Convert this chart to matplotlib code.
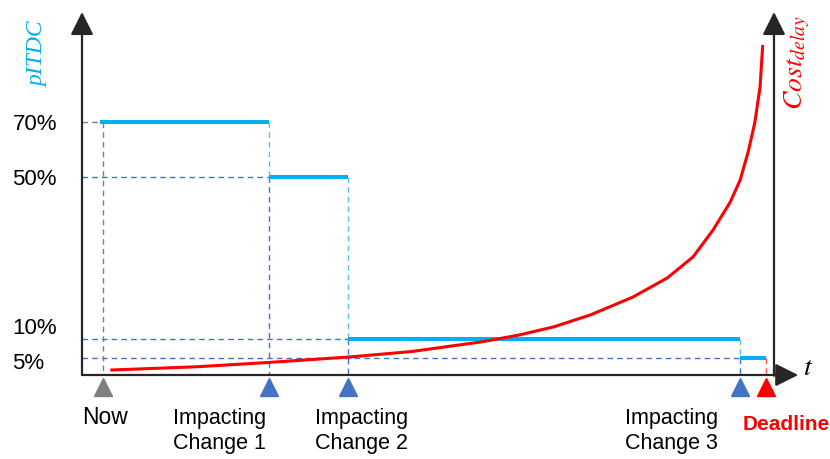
import matplotlib
matplotlib.use("Agg")
import matplotlib.pyplot as plt
import numpy as np
from matplotlib.transforms import blended_transform_factory, ScaledTranslation

# event times (days from now)
event_names = ["Now", "Impacting\nChange 1", "Impacting\nChange 2", "Impacting\nChange 3", "Deadline"]
event_times = [0, 25, 37, 96, 100]

# pITDC level for each interval between events
pitdc_levels = [70, 50, 10, 5]
tick_labels = ["70%", "50%", "10%", "5%"]

# cost of delay curve
cost_t = [1.1, 14.2, 25.0, 37.4, 46.5, 57.3, 62.7, 68.0, 73.5, 79.9,
          85.1, 89.0, 92.0, 94.6, 96.1, 97.3, 98.3, 99.1, 99.5]
cost_v = [1.5, 2.5, 3.8, 5.5, 7.1, 10.1, 12.1, 14.6, 18.2, 23.6,
          29.4, 35.8, 43.9, 52.4, 59.1, 67.6, 76.4, 87.3, 100.0]

# the pITDC axis is not linear in the picture (schematic), so use a piecewise scale
scale_vals = [0, 5, 10, 50, 70, 110]
scale_pos = [0, 17, 36, 198, 253, 363]

def fwd(v):
    return np.interp(v, scale_vals, scale_pos)

def inv(u):
    return np.interp(u, scale_pos, scale_vals)

blue = "#00B0F0"
dblue = "#4472C4"
lblue = "#5BC0EB"
grey = "#7F7F7F"
red = "#FF0000"

plt.rcParams["font.family"] = ["Liberation Sans", "DejaVu Sans"]
plt.rcParams["mathtext.fontset"] = "stix"

fig = plt.figure(figsize=(8.3, 4.59), dpi=100)
ax = fig.add_axes([82 / 830, 84 / 459, 692 / 830, 363 / 459])
ax.set_yscale("function", functions=(fwd, inv))
ax.set_xlim(-3.17, 101.2)
ax.set_ylim(0, 110)
for s in ax.spines.values():
    s.set_visible(False)
ax.set_xticks([])
ax.set_yticks(pitdc_levels)
ax.set_yticklabels(tick_labels, fontsize=16, ha="left")
ax.tick_params(axis="y", length=0, pad=50)
ax.yaxis.set_minor_locator(matplotlib.ticker.NullLocator())
# the 10% label sits a bit above its line in the reference
for lab in ax.get_yticklabels():
    if lab.get_text() == "10%":
        lab.set_transform(lab.get_transform() + ScaledTranslation(0, 13 / 100, fig.dpi_scale_trans))
    if lab.get_text() == "5%":
        lab.set_transform(lab.get_transform() + ScaledTranslation(0, -3 / 100, fig.dpi_scale_trans))

dash = (0, (4, 3))
x0 = ax.get_xlim()[0]

# step lines and guides
for i, lev in enumerate(pitdc_levels):
    t_start = event_times[i]
    t_end = event_times[i + 1]
    gcol = grey if i == 0 else dblue
    ax.plot([x0, t_start], [lev, lev], color=gcol, lw=1, ls=dash, zorder=2)
    ax.plot([t_start - (0.5 if i == 0 else 0), t_end], [lev, lev], color=blue, lw=2.9,
            solid_capstyle="butt", zorder=3)
    # riser at the end of each interval
    if i + 1 < len(pitdc_levels):
        nxt = pitdc_levels[i + 1]
        ax.plot([t_end, t_end], [lev, nxt], color=lblue, lw=1, ls=dash, zorder=2)
        ax.plot([t_end, t_end], [nxt, 0], color=dblue, lw=1, ls=dash, zorder=2)
    else:
        ax.plot([t_end, t_end], [lev, 0], color="#FF5050", lw=1, ls=dash, zorder=2)
ax.plot([event_times[0], event_times[0]], [pitdc_levels[0], 0], color=grey, lw=1, ls=dash, zorder=2)

# cost of delay on second axis
ax2 = ax.twinx()
ax2.set_ylim(0, 110)
for s in ax2.spines.values():
    s.set_visible(False)
ax2.set_yticks([])
ax2.plot(cost_t, cost_v, color=red, lw=2.2, zorder=4, solid_joinstyle="round",
         solid_capstyle="butt")

# axis arrows
akw = dict(arrowstyle="-|>,head_length=0.7,head_width=0.35", color="#262626", lw=1.6,
           shrinkA=0, shrinkB=0, mutation_scale=20)
ax.annotate("", xy=(0, 1), xytext=(0, 0), xycoords="axes fraction", arrowprops=akw)
ax.annotate("", xy=(1, 1), xytext=(1, -0.002), xycoords="axes fraction", arrowprops=akw)
ax.annotate("", xy=(1.035, 0), xytext=(0, 0), xycoords="axes fraction", arrowprops=akw)

# event markers and labels
tb = blended_transform_factory(ax.transData, ax.transAxes)
mcols = [grey, dblue, dblue, dblue, red]
offs = [(2, -43), (-49, -56), (13, -56), (-68, -56), (20, -50)]
for t, name, c, off in zip(event_times, event_names, mcols, offs):
    ax.plot([t], [-0.033], marker="^", ms=13, color=c, mec=c, transform=tb, clip_on=False)
    if name == "Deadline":
        ax.annotate(name, xy=(t, 0), xycoords=tb, xytext=off, textcoords="offset pixels",
                    ha="center", va="center", color=red, fontsize=15, fontweight="bold")
    elif name == "Now":
        ax.annotate(name, xy=(t, 0), xycoords=tb, xytext=off, textcoords="offset pixels",
                    ha="center", va="center", fontsize=16.5)
    else:
        ax.annotate(name, xy=(t, 0), xycoords=tb, xytext=off, textcoords="offset pixels",
                    ha="center", va="center", fontsize=15.5, multialignment="left",
                    linespacing=1.3)

# axis titles
ax.text(-0.064, 0.884, "pITDC", transform=ax.transAxes, rotation=90, ha="center", va="center",
        color=blue, fontsize=17, style="italic", family=["Liberation Serif"])
ax.text(1.034, 0.86, r"$Cost_{delay}$", transform=ax.transAxes, rotation=90, ha="center",
        va="center", color=red, fontsize=20)
ax.text(1.049, 0.02, r"$t$", transform=ax.transAxes, ha="center", va="center", fontsize=20)

fig.savefig("out.png", dpi=100)
